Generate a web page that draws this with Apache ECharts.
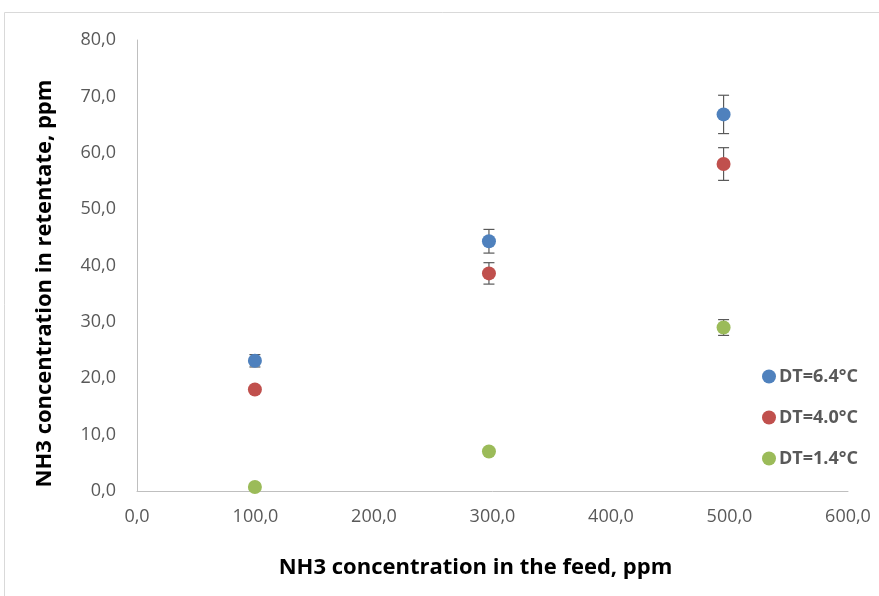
<!DOCTYPE html>
<html>
<head>
<meta charset="utf-8">
<script src="https://cdn.jsdelivr.net/npm/echarts@6/dist/echarts.min.js"></script>
<style>
html,body{margin:0;padding:0;background:#fff;}
#chart{width:879px;height:596px;}
</style>
</head>
<body>
<div id="chart"></div>
<script>
// Data
const feed = [99.5, 297, 495];
const seriesNames = ['DT=6.4°C', 'DT=4.0°C', 'DT=1.4°C'];
const dt64 = [23.1, 44.3, 66.8];
const dt40 = [18.0, 38.6, 58.0];
const dt14 = [0.7, 7.0, 29.0];
const err64 = [1.1, 2.1, 3.4];
const err40 = [0.4, 1.9, 2.9];
const err14 = [0.3, 0.4, 1.4];
const xTicks = [0, 100, 200, 300, 400, 500, 600];
const yTicks = [0, 10, 20, 30, 40, 50, 60, 70, 80];

const colors = ['#4F81BD', '#C0504D', '#9BBB59'];
const values = [dt64, dt40, dt14];
const errors = [err64, err40, err14];

const fmt = v => v.toFixed(1).replace('.', ',');
const FONT = 'Open Sans';

const series = [];
values.forEach((vals, i) => {
  series.push({
    name: seriesNames[i],
    type: 'custom',
    z: 2,
    silent: true,
    legendHoverLink: false,
    data: feed.map((x, k) => [x, vals[k], errors[i][k]]),
    renderItem: function (params, api) {
      const x = api.value(0), y = api.value(1), e = api.value(2);
      const top = api.coord([x, y + e]);
      const bot = api.coord([x, y - e]);
      const hw = 5.5;
      const st = { stroke: '#595959', lineWidth: 1.2 };
      return {
        type: 'group',
        children: [
          { type: 'line', shape: { x1: top[0], y1: top[1], x2: bot[0], y2: bot[1] }, style: st },
          { type: 'line', shape: { x1: top[0] - hw, y1: top[1], x2: top[0] + hw, y2: top[1] }, style: st },
          { type: 'line', shape: { x1: bot[0] - hw, y1: bot[1], x2: bot[0] + hw, y2: bot[1] }, style: st }
        ]
      };
    }
  });
  series.push({
    name: seriesNames[i],
    type: 'scatter',
    z: 3,
    symbol: 'circle',
    symbolSize: 14,
    itemStyle: { color: colors[i], opacity: 1 },
    data: feed.map((x, k) => [x, vals[k]])
  });
});

const chart = echarts.init(document.getElementById('chart'));
chart.setOption({
  animation: false,
  backgroundColor: '#fff',
  color: colors,
  graphic: [{
    type: 'rect',
    shape: { x: 4.5, y: 12.5, width: 900, height: 620 },
    style: { fill: 'none', stroke: '#d9d9d9', lineWidth: 1 },
    silent: true
  }],
  grid: { left: 137, right: 31, top: 40, bottom: 105 },
  legend: {
    orient: 'vertical',
    left: 757,
    top: 361,
    itemWidth: 14,
    itemHeight: 14,
    itemGap: 20,
    icon: 'circle',
    data: seriesNames.map((n, i) => ({ name: n, itemStyle: { color: colors[i], opacity: 1 } })),
    textStyle: { fontFamily: FONT, fontSize: 18, fontWeight: 'bold', color: '#595959', lineHeight: 21, padding: [0, 0, 0, -2] }
  },
  xAxis: {
    type: 'value',
    min: xTicks[0], max: xTicks[xTicks.length - 1], interval: 100,
    name: 'NH3 concentration in the feed, ppm',
    nameLocation: 'middle',
    nameGap: 66,
    nameTextStyle: { fontFamily: FONT, fontSize: 22, fontWeight: 'bold', color: '#000', padding: [0, 34, 0, 0] },
    axisLine: { lineStyle: { color: '#bfbfbf', width: 1 } },
    axisTick: { show: false },
    splitLine: { show: false },
    axisLabel: { margin: 17, fontFamily: FONT, fontSize: 18, color: '#595959', formatter: v => fmt(v) }
  },
  yAxis: {
    type: 'value',
    min: yTicks[0], max: yTicks[yTicks.length - 1], interval: 10,
    name: 'NH3 concentration in retentate, ppm',
    nameLocation: 'middle',
    nameGap: 81,
    nameTextStyle: { fontFamily: FONT, fontSize: 22, fontWeight: 'bold', color: '#000', padding: [0, 36, 0, 0] },
    axisLine: { show: true, lineStyle: { color: '#bfbfbf', width: 1 } },
    axisTick: { show: false },
    splitLine: { show: false },
    axisLabel: { margin: 21, fontFamily: FONT, fontSize: 18, color: '#595959', formatter: v => fmt(v) }
  },
  series: series
});
</script>
</body>
</html>
